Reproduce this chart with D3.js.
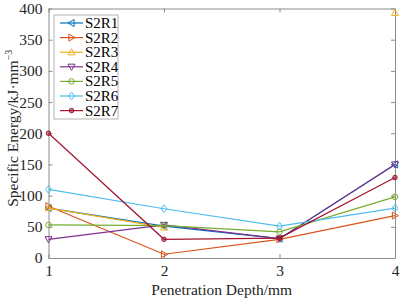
<!DOCTYPE html>
<html>
<head>
<meta charset="utf-8">
<script src="https://cdn.jsdelivr.net/npm/d3@7"></script>
<style>
	body { margin: 0; background: #fff; font-family: "Liberation Serif", serif; }
	#chart { position: relative; width: 407px; height: 303px; }
	#chart text { font-family: "Liberation Serif", serif; }
	#xtitle { position: absolute; left: 101.75px; width: 240px; top: 281px; line-height: 18px;
		text-align: center; font-size: 15.5px; color: #262626; font-family: "Liberation Serif", serif; }
</style>
</head>
<body>
<div id="chart"><svg id="plot" width="407" height="303" font-family="Liberation Serif"></svg><div id="xtitle">Penetration Depth/mm</div></div>
<script>
const depths = [1, 2, 3, 4];
const seriesNames = ["S2R1", "S2R2", "S2R3", "S2R4", "S2R5", "S2R6", "S2R7"];
const s2r1 = [80, 51, 31, 150];
const s2r2 = [83, 6, 30, 68];
const s2r3 = [80, 49, null, 393];
const s2r4 = [30, 53, 31, 150];
const s2r5 = [53, 52, 42, 98];
const s2r6 = [110, 79, 51, 80];
const s2r7 = [200, 30, 32, 129];
const yTicks = [0, 50, 100, 150, 200, 250, 300, 350, 400];
const xTicks = [1, 2, 3, 4];

const colors = ["#0072BD", "#D95319", "#EDB120", "#7E2F8E", "#77AC30", "#4DBEEE", "#A2142F"];
const allValues = [s2r1, s2r2, s2r3, s2r4, s2r5, s2r6, s2r7];

const width = 407, height = 303;
const margin = {left: 48.5, top: 8.5, right: 12, bottom: 45};
const w = width - margin.left - margin.right;
const h = height - margin.top - margin.bottom;

const svg = d3.select("#plot");

const chart = svg.append("g")
	.attr("transform", "translate(" + margin.left + "," + margin.top + ")");

const x = d3.scaleLinear().domain([1, 4]).range([0, w]);
const y = d3.scaleLinear().domain([0, 400]).range([h, 0]);

// box with inward ticks on all sides
const axisColor = "#8c8c8c";
const styleAxis = g => {
	g.attr("font-family", "Liberation Serif");
	g.selectAll("path.domain").attr("stroke", axisColor);
	g.selectAll(".tick line").attr("stroke", axisColor);
	g.selectAll(".tick text")
		.attr("fill", "#262626")
		.attr("font-size", 15.5);
};

chart.append("g")
	.attr("transform", "translate(0," + h + ")")
	.call(d3.axisBottom(x).tickValues(xTicks).tickSizeInner(-4).tickSizeOuter(0).tickPadding(7).tickFormat(d3.format("d")))
	.call(styleAxis);

chart.append("g")
	.call(d3.axisLeft(y).tickValues(yTicks).tickSizeInner(-4).tickSizeOuter(0).tickPadding(6))
	.call(styleAxis);

chart.append("g")
	.call(d3.axisTop(x).tickValues(xTicks).tickSizeInner(-4).tickSizeOuter(0).tickFormat(""))
	.call(styleAxis);

chart.append("g")
	.attr("transform", "translate(" + w + ",0)")
	.call(d3.axisRight(y).tickValues(yTicks).tickSizeInner(-4).tickSizeOuter(0).tickFormat(""))
	.call(styleAxis);

// marker shapes
const tri = (dir) => {
	const r = 3.5;
	if (dir === "up") return `M0,${-r}L${r},${r * 0.75}L${-r},${r * 0.75}Z`;
	if (dir === "down") return `M0,${r}L${r},${-r * 0.75}L${-r},${-r * 0.75}Z`;
	if (dir === "left") return `M${-r},0L${r * 0.75},${-r}L${r * 0.75},${r}Z`;
	return `M${r},0L${-r * 0.75},${-r}L${-r * 0.75},${r}Z`;
};
const markers = [
	tri("left"),
	tri("right"),
	tri("up"),
	tri("down"),
	d3.symbol(d3.symbolCircle, 24)(),
	"M0,-3.8L3,0L0,3.8L-3,0Z",
	d3.symbol(d3.symbolCircle, 16)()
];

const line = d3.line()
	.defined(d => d !== null)
	.x((d, i) => x(depths[i]))
	.y(d => y(d));

allValues.forEach((vals, k) => {
	const g = chart.append("g");
	g.append("path")
		.attr("d", line(vals))
		.attr("fill", "none")
		.attr("stroke", colors[k])
		.attr("stroke-width", 1.2);
	g.selectAll("path.m")
		.data(vals.map((v, i) => ({v, i})).filter(d => d.v !== null))
		.enter().append("path")
		.attr("class", "m")
		.attr("d", markers[k])
		.attr("transform", d => "translate(" + x(depths[d.i]) + "," + y(d.v) + ")")
		.attr("fill", k === 6 ? colors[k] : "none")
		.attr("fill-opacity", k === 6 ? 0.5 : 1)
		.attr("stroke", colors[k])
		.attr("stroke-width", 1);
});

// legend
const legend = chart.append("g")
	.attr("transform", "translate(" + (54 - margin.left) + "," + (15 - margin.top) + ")");
legend.append("rect")
	.attr("width", 64)
	.attr("height", 104)
	.attr("fill", "#fff")
	.attr("stroke", "#a0a0a0")
	.attr("stroke-width", 0.8);
seriesNames.forEach((name, k) => {
	const ly = 8 + k * 14.6;
	legend.append("line")
		.attr("x1", 6).attr("x2", 29)
		.attr("y1", ly).attr("y2", ly)
		.attr("stroke", colors[k])
		.attr("stroke-width", 1.2);
	legend.append("path")
		.attr("d", markers[k])
		.attr("transform", "translate(17.5," + ly + ")")
		.attr("fill", k === 6 ? colors[k] : "none")
		.attr("fill-opacity", k === 6 ? 0.5 : 1)
		.attr("stroke", colors[k]);
	legend.append("text")
		.attr("x", 31)
		.attr("y", ly + 5)
		.attr("fill", "#000")
		.attr("font-size", 15)
		.text(name);
});

// y axis title
const yl = svg.append("text")
	.attr("transform", "translate(18," + (margin.top + h / 2 - 5) + ") rotate(-90)")
	.attr("text-anchor", "middle")
	.attr("font-size", 15.5)
	.attr("fill", "#262626");
yl.append("tspan").text("Specific Energy/kJ·mm");
yl.append("tspan").attr("dy", -6).attr("font-size", 10).text("−3");
</script>
</body>
</html>
